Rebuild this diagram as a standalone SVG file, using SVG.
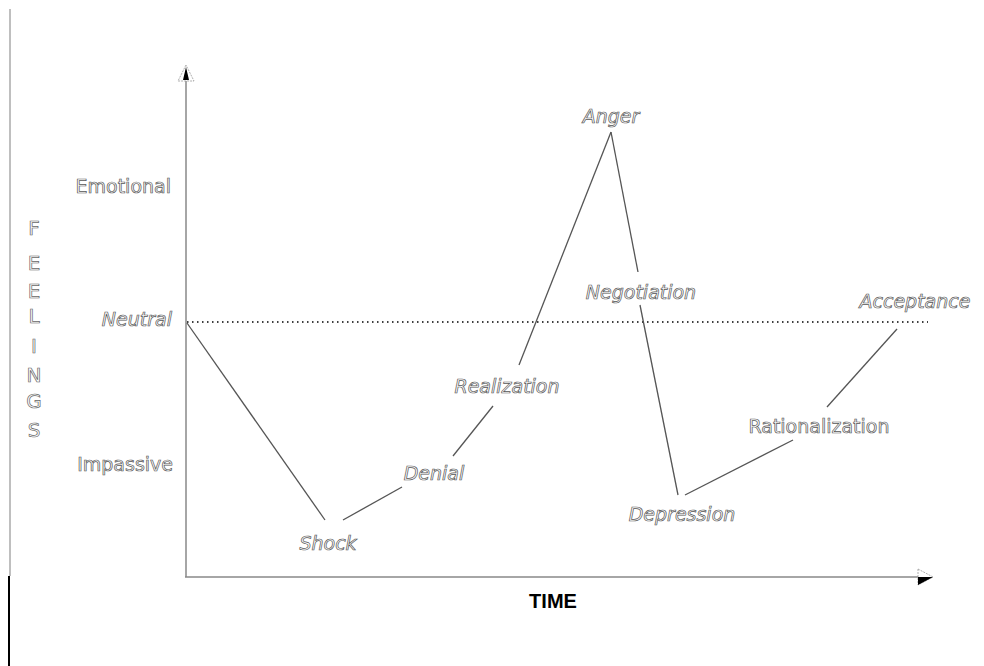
<svg xmlns="http://www.w3.org/2000/svg" width="984" height="666" viewBox="0 0 984 666">
<style>
.lbl{font-family:"DejaVu Sans",Verdana,sans-serif;font-size:19px;fill:#ffffff;stroke:#555;stroke-width:0.7;text-anchor:middle}
.it{font-style:italic}
.axl{font-family:"DejaVu Sans",Verdana,sans-serif;font-size:19px;fill:#ffffff;stroke:#555;stroke-width:0.7;text-anchor:end}
.fl{font-family:"DejaVu Sans",Verdana,sans-serif;font-size:20px;fill:#ffffff;stroke:#666;stroke-width:0.7;text-anchor:middle}
.conn{stroke:#555;stroke-width:1.3;fill:none}
.axis{stroke:#888;stroke-width:1.5;fill:none}
</style>
<rect width="984" height="666" fill="#ffffff"/>
<g id="frame">
<line x1="10" y1="9" x2="10" y2="576" stroke="#aaa" stroke-width="1.5"/>
<line x1="9" y1="576" x2="9" y2="666" stroke="#000" stroke-width="2"/>
</g>
<g id="axes">
<line class="axis" x1="186" y1="78" x2="186" y2="577"/>
<line class="axis" x1="185" y1="577" x2="919" y2="577"/>
<polygon points="186,65 178,81 194,81" fill="#fff" stroke="#999" stroke-width="0.8" stroke-dasharray="2 1"/>
<polygon points="186,67 183,80 189,80" fill="#000"/>
<polygon points="918,569 933,577 918,585" fill="#fff" stroke="#999" stroke-width="0.8" stroke-dasharray="2 1"/>
<polygon points="918,577 933,577 918,585" fill="#000"/>
<line x1="187" y1="322" x2="928" y2="322" stroke="#000" stroke-width="1.3" stroke-dasharray="1.5 3.5"/>
</g>
<g id="y-labels">
<text class="axl" x="171" y="193">Emotional</text>
<text class="axl it" x="172" y="326">Neutral</text>
<text class="axl" x="173" y="471">Impassive</text>
</g>
<g id="feelings">
<text class="fl" x="34" y="235">F</text>
<text class="fl" x="34" y="270">E</text>
<text class="fl" x="34" y="298">E</text>
<text class="fl" x="34" y="323">L</text>
<text class="fl" x="34" y="353">I</text>
<text class="fl" x="34" y="382">N</text>
<text class="fl" x="34" y="408">G</text>
<text class="fl" x="34" y="437">S</text>
</g>
<g id="connectors">
<line class="conn" x1="187" y1="323" x2="325" y2="520"/>
<line class="conn" x1="343" y1="520" x2="402" y2="487"/>
<line class="conn" x1="453" y1="456" x2="493" y2="406"/>
<line class="conn" x1="519" y1="365" x2="611" y2="132"/>
<line class="conn" x1="611" y1="132" x2="638" y2="272"/>
<line class="conn" x1="640" y1="305" x2="678" y2="495"/>
<line class="conn" x1="685" y1="495" x2="793" y2="440"/>
<line class="conn" x1="827" y1="407" x2="897" y2="329"/>
</g>
<g id="shock"><text class="lbl it" x="328" y="550">Shock</text></g>
<g id="denial"><text class="lbl it" x="434" y="480">Denial</text></g>
<g id="realization"><text class="lbl it" x="507" y="393">Realization</text></g>
<g id="anger"><text class="lbl it" x="611" y="123">Anger</text></g>
<g id="negotiation"><text class="lbl it" x="641" y="299">Negotiation</text></g>
<g id="depression"><text class="lbl it" x="682" y="521">Depression</text></g>
<g id="rationalization"><text class="lbl" x="819" y="433">Rationalization</text></g>
<g id="acceptance"><text class="lbl it" x="915" y="308">Acceptance</text></g>
<g id="time"><text x="553" y="608" font-family="'Liberation Sans',Arial,sans-serif" font-weight="bold" font-size="20" text-anchor="middle" fill="#000">TIME</text></g>
</svg>
